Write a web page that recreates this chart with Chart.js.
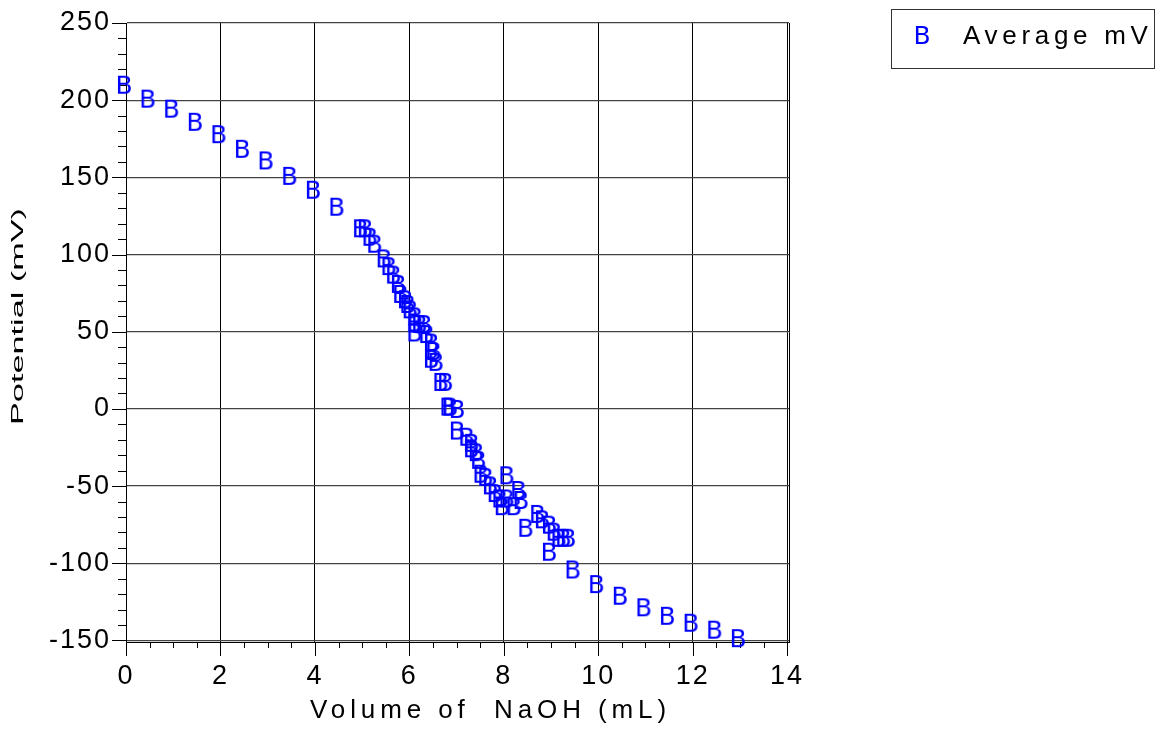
<!DOCTYPE html>
<html>
<head>
<meta charset="utf-8">
<title>Titration curve</title>
<script src="https://cdn.jsdelivr.net/npm/chart.js@4/dist/chart.umd.min.js"></script>
<style>
  html, body { margin: 0; padding: 0; background: #fff; }
  #wrap { width: 1165px; height: 730px; }
</style>
</head>
<body>
<div id="wrap"><canvas id="myChart" width="1165" height="730"></canvas></div>
<script>
'use strict';

let seriesName = 'Average mV';
let xTitle = 'Volume of  NaOH (mL)';
let yTitle = 'Potential (mV)';

let volumeML = [0, 0.5, 1, 1.5, 2, 2.5, 3, 3.5, 4, 4.5,
  5.0, 5.1, 5.2, 5.3, 5.5, 5.6, 5.7, 5.8, 5.85, 5.95,
  6.0, 6.05, 6.15, 6.15, 6.25, 6.35, 6.15, 6.4, 6.5, 6.55,
  6.5, 6.6, 6.7, 6.8, 6.85, 6.9, 7.05, 7.05, 7.25, 7.35,
  7.35, 7.45, 7.5, 7.55, 7.65, 7.75, 7.85, 7.95, 8.0, 8.1,
  8.1, 8.25, 8.35, 8.4, 8.5, 8.75, 8.85, 9.0, 9.1, 9.2,
  9.3, 9.4, 9.0,
  9.5, 10, 10.5, 11, 11.5, 12, 12.5, 13];

let averageMV = [210, 201, 194.5, 186, 178, 168.5, 161, 151, 142, 131,
  117, 117, 111.5, 107, 97.5, 92.5, 87, 81, 74.5, 71,
  68, 64.5, 60, 56, 55, 55, 49.5, 48.5, 43, 37.5,
  32.5, 30.5, 17.5, 17.5, 1.5, 1.5, 0, -14, -18, -22,
  -25.5, -28, -33, -42, -44, -49.5, -54.5, -58, -63, -43,
  -58, -63, -52.5, -59, -77, -68, -71.5, -75, -79.5, -83.5,
  -83.5, -83.5, -92.5,
  -104, -113.5, -121, -128.5, -134, -138.5, -143, -148.5];

let xMajor = 2;
let xMinor = 0.5;
let yMajor = 50;
let yMinor = 10;

let FONT = '"Liberation Sans", Arial, sans-serif';

// the "B" marker used by the original plot program
function makeMarker(){
  let c = document.createElement('canvas');
  c.width = 30;
  c.height = 30;
  let g = c.getContext('2d');
  g.fillStyle = '#0000ff';
  g.font = '25px "DejaVu Sans", sans-serif';
  g.textAlign = 'center';
  g.textBaseline = 'alphabetic';
  g.fillText('B', 13, 24);
  return c;
}
let marker = makeMarker();

let points = [];
for(let i = 0; i < volumeML.length; i++){
  points.push({x: volumeML[i], y: averageMV[i]});
}

function isMultiple(v, step){
  let r = Math.abs(v / step - Math.round(v / step));
  return r < 1e-6;
}

let spacingPlugin = {
  id: 'spacing',
  beforeLayout(chart){ chart.ctx.letterSpacing = '2px'; },
  beforeDraw(chart){ chart.ctx.letterSpacing = '2px'; }
};

let extrasPlugin = {
  id: 'extras',
  beforeDatasetsDraw(chart){
    let ctx = chart.ctx;
    let area = chart.chartArea;
    let xs = chart.scales.x;
    let ys = chart.scales.y;

    ctx.save();
    ctx.strokeStyle = '#000';
    ctx.lineWidth = 1;
    ctx.beginPath();
    // right frame, just outside the last grid line
    ctx.moveTo(Math.round(area.right) + 0.5, area.top);
    ctx.lineTo(Math.round(area.right) + 0.5, area.bottom);
    // tick marks, major and minor
    xs.ticks.forEach(function(t){
      if(!isMultiple(t.value, xMinor)) return;
      let px = Math.round(xs.getPixelForValue(t.value)) + 0.5;
      let len = isMultiple(t.value, xMajor) ? 14 : 6;
      ctx.moveTo(px, area.bottom);
      ctx.lineTo(px, area.bottom + len);
    });
    ys.ticks.forEach(function(t){
      if(!isMultiple(t.value, yMinor)) return;
      let py = Math.round(ys.getPixelForValue(t.value)) + 0.5;
      let len = isMultiple(t.value, yMajor) ? 14 : 8;
      ctx.moveTo(area.left, py);
      ctx.lineTo(area.left - len, py);
    });
    ctx.stroke();
    ctx.restore();
  },
  afterDraw(chart){
    let ctx = chart.ctx;
    let area = chart.chartArea;

    ctx.save();
    // axis titles
    ctx.fillStyle = '#000';
    ctx.font = '26px ' + FONT;
    ctx.letterSpacing = '4.9px';
    ctx.textAlign = 'left';
    ctx.textBaseline = 'alphabetic';
    ctx.fillText(xTitle, area.left + 184, area.bottom + 76);

    ctx.letterSpacing = '0px';
    ctx.font = '16px ' + FONT;
    let w = ctx.measureText(yTitle).width;
    ctx.translate(22.5, area.top + 402);
    ctx.rotate(-Math.PI / 2);
    ctx.scale(217 / w, 1);
    ctx.fillText(yTitle, 0, 0);
    ctx.restore();

    // legend box
    ctx.save();
    ctx.strokeStyle = '#333';
    ctx.lineWidth = 1;
    ctx.strokeRect(891.5, 9.5, 263, 59);
    ctx.drawImage(marker, 924 - 15, 35 - 15);
    ctx.fillStyle = '#000';
    ctx.font = '26px ' + FONT;
    ctx.letterSpacing = '4.7px';
    ctx.textBaseline = 'alphabetic';
    ctx.fillText(chart.data.datasets[0].label, 963, 44);
    ctx.restore();
  }
};

let ctx = document.getElementById('myChart').getContext('2d');
let myChart = new Chart(ctx, {
  type: 'scatter',
  data: {
    datasets: [{
      label: seriesName,
      data: points,
      pointStyle: marker,
      pointRadius: 12,
      showLine: false,
      clip: false
    }]
  },
  options: {
    responsive: false,
    animation: false,
    events: [],
    layout: {
      padding: {top: 23, left: 0, right: 376, bottom: 0}
    },
    plugins: {
      legend: {display: false},
      tooltip: {enabled: false}
    },
    scales: {
      x: {
        type: 'linear',
        min: 0,
        max: 14.04,
        afterFit: function(scale){ scale.height = 88; },
        border: {display: true, color: '#000', width: 1},
        grid: {
          drawTicks: true,
          tickLength: 14,
          tickColor: 'rgba(0,0,0,0)',
          color: function(c){
            if(c.tick && isMultiple(c.tick.value, xMajor)) return '#000';
            return 'rgba(0,0,0,0)';
          }
        },
        ticks: {
          stepSize: xMinor,
          includeBounds: false,
          autoSkip: false,
          maxRotation: 0,
          padding: 4,
          color: '#000',
          font: {family: FONT, size: 27},
          callback: function(v){ return isMultiple(v, xMajor) ? String(v) : ''; }
        }
      },
      y: {
        type: 'linear',
        min: -151,
        max: 250,
        afterFit: function(scale){ scale.width = 126; },
        border: {display: true, color: '#000', width: 1},
        grid: {
          drawTicks: true,
          tickLength: 14,
          tickColor: 'rgba(0,0,0,0)',
          lineWidth: 1.3,
          color: function(c){
            if(c.tick && isMultiple(c.tick.value, yMajor)) return '#444';
            return 'rgba(0,0,0,0)';
          }
        },
        ticks: {
          stepSize: yMinor,
          includeBounds: false,
          autoSkip: false,
          padding: 1,
          color: '#000',
          font: {family: FONT, size: 27},
          callback: function(v){ return isMultiple(v, yMajor) ? String(v) : ''; }
        }
      }
    }
  },
  plugins: [spacingPlugin, extrasPlugin]
});
</script>
</body>
</html>
